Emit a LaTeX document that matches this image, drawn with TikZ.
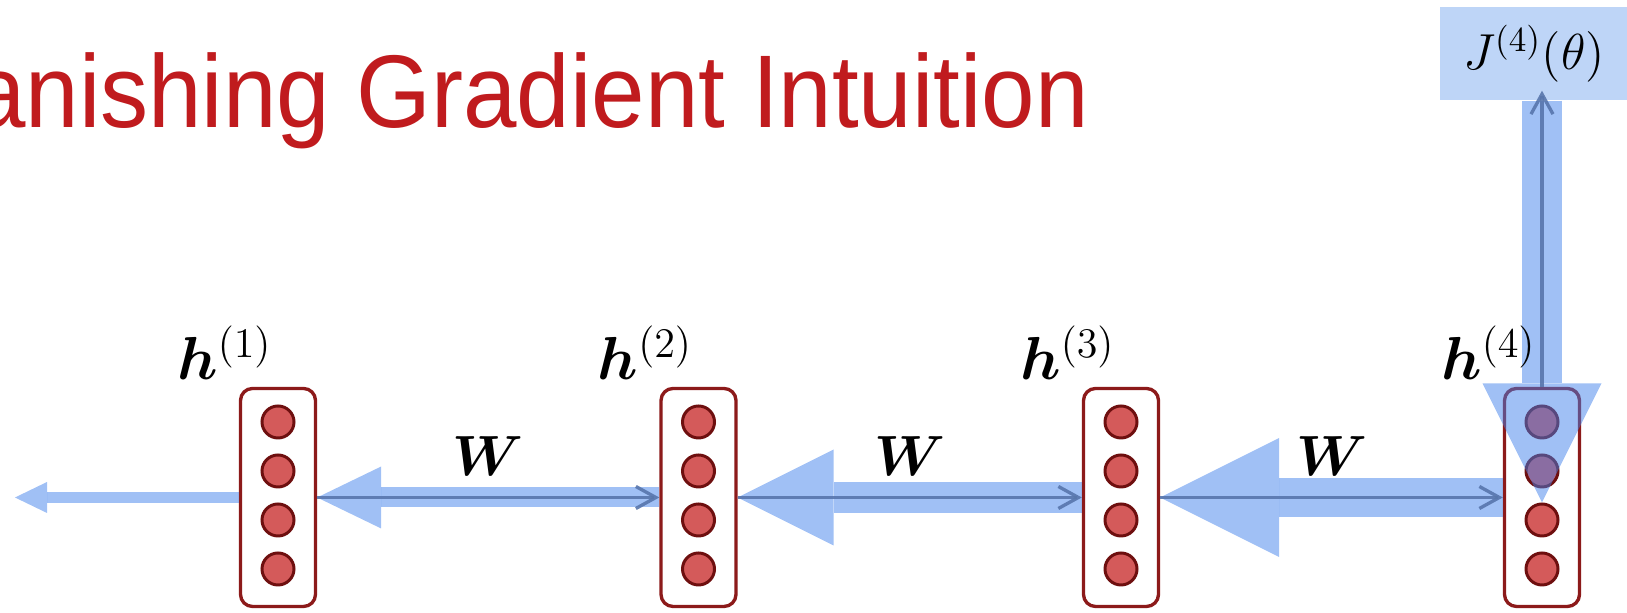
\documentclass[tikz,border=0pt]{standalone}
\usepackage{amsmath,amssymb,bm}
\usepackage{fontspec}
\usepackage{xcolor}
\usepackage{tikz}
\usetikzlibrary{arrows.meta,calc,positioning}
\newfontfamily\titlefont{Liberation Sans}
\definecolor{titlered}{RGB}{192,27,30}
\definecolor{layerred}{RGB}{140,26,26}
\definecolor{unitfill}{RGB}{212,90,90}
\definecolor{unitline}{RGB}{110,15,15}
\definecolor{gradblue}{RGB}{65,129,235}
\definecolor{costblue}{RGB}{190,213,247}
\definecolor{fwdblue}{RGB}{88,118,172}

\begin{document}
\begin{tikzpicture}[>=Latex,
  layer/.style={draw=layerred, line width=0.95pt, rounded corners=0.12cm, minimum width=0.75cm, minimum height=2.18cm, inner sep=0pt},
  unit/.style={circle, draw=unitline, fill=unitfill, line width=0.85pt, minimum size=0.32cm, inner sep=0pt},
  grad/.style={draw=gradblue, opacity=0.5},
  fwd/.style={draw=fwdblue, opacity=0.9, line width=0.95pt, -{Straight Barb[length=0.2cm,width=0.22cm]}},
  hlab/.style={anchor=base east, inner sep=0pt, font=\fontsize{17.28}{20}\selectfont},
  wlab/.style={inner sep=0pt, font=\fontsize{14.4}{17}\selectfont}]
  \useasboundingbox (0,0) rectangle (16.27,6.13);
  \clip (0,0) rectangle (16.27,6.13);

  \node[anchor=base east, inner sep=0pt, text=titlered] (title) at (10.895,4.854)
    {\titlefont\fontsize{29.4}{34}\selectfont\scalebox{0.93}[1]{Vanishing Gradient Intuition}};

  \node[fill=costblue, minimum width=1.88cm, minimum height=0.93cm, inner sep=0pt,
    font=\fontsize{14.4}{17}\selectfont] (J) at (15.34,5.595) {\raisebox{-0.06cm}{$J^{(4)}(\theta)$}};

  \foreach \i/\x in {1/2.78,2/6.985,3/11.21,4/15.42}
    \node[layer] (h\i) at (\x,1.155) {};
  \coordinate (lend) at (0.15,1.155);
  \coordinate (tip4) at ([yshift=-0.05cm]h4.center);

  \draw[grad, line width=0.39cm, -{Triangle[length=1.19cm,width=1.19cm,line width=0pt]}] (h4.west) -- (h3.east);
  \draw[grad, line width=0.31cm, -{Triangle[length=0.96cm,width=0.96cm,line width=0pt]}] (h3.west) -- (h2.east);
  \draw[grad, line width=0.20cm, -{Triangle[length=0.64cm,width=0.62cm,line width=0pt]}] (h2.west) -- (h1.east);
  \draw[grad, line width=0.11cm, -{Triangle[length=0.32cm,width=0.31cm,line width=0pt]}] (h1.west) -- (lend);

  \foreach \i in {1,...,4}
    \foreach \k in {1,...,4}
      \node[unit] (h\i-\k) at ($(h\i.center)+(0,{1.245-0.49*\k})$) {};

  \draw[grad, line width=0.40cm, -{Triangle[length=1.19cm,width=1.19cm,line width=0pt]}] (J.south -| h4.center) -- (tip4);

  \draw[fwd] (h1.east) -- (h2.west);
  \draw[fwd] (h2.east) -- (h3.west);
  \draw[fwd] (h3.east) -- (h4.west);
  \draw[fwd, shorten >=-0.1cm] (h4.north) -- (h4.north |- J.south);

  \path (h1) -- (h2) node[midway, yshift=0.415cm, wlab] (w1) {\scalebox{1.12}{$\boldsymbol{W}$}};
  \path (h2) -- (h3) node[midway, yshift=0.415cm, wlab] (w2) {\scalebox{1.12}{$\boldsymbol{W}$}};
  \path (h3) -- (h4) node[midway, yshift=0.415cm, wlab] (w3) {\scalebox{1.12}{$\boldsymbol{W}$}};

  \foreach \i in {1,...,4}
    \node[hlab] (l\i) at ([xshift=-0.05cm,yshift=0.07cm]h\i.north) {$\boldsymbol{h}^{(\i)}$};
\end{tikzpicture}
\end{document}
